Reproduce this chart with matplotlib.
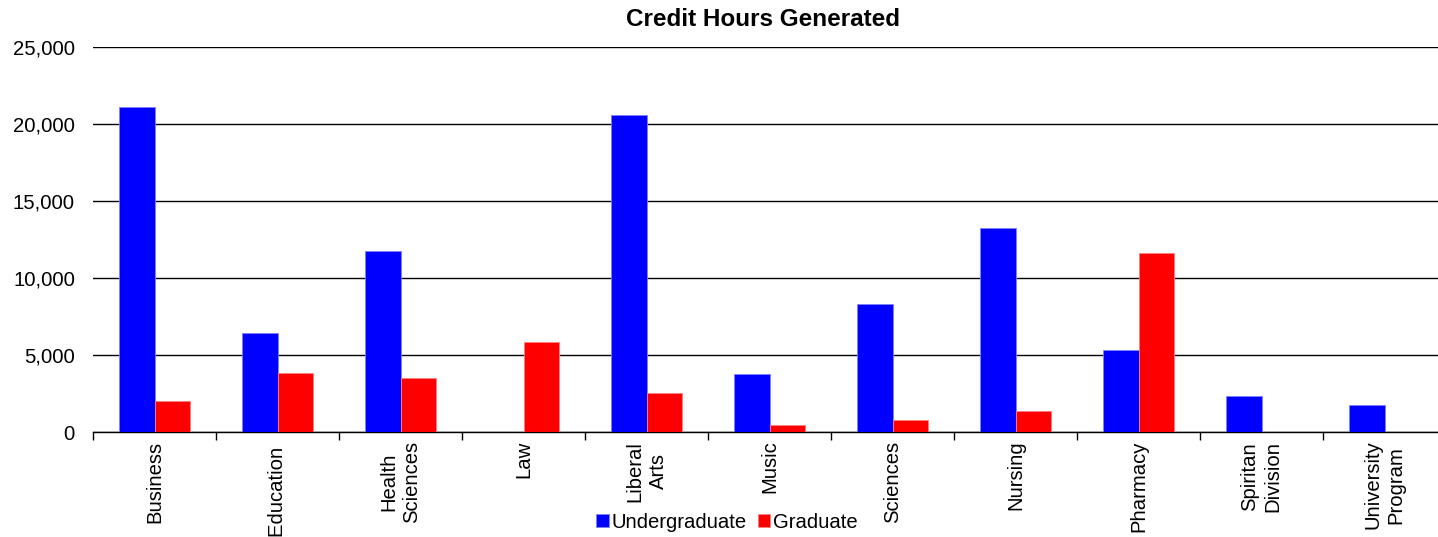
import matplotlib.pyplot as plt
import numpy as np
from matplotlib.ticker import FuncFormatter, FixedLocator

plt.rcParams['font.family'] = ['Liberation Sans', 'DejaVu Sans']

# Werte
categories = ["Business", "Education ", "Health\nSciences", "Law", "Liberal\nArts",
              "Music", "Sciences", "Nursing", "Pharmacy", "Spiritan\nDivision",
              "University\nProgram"]
undergraduate = [21080, 6450, 11770, 0, 20600, 3790, 8330, 13260, 5320, 2340, 1750]
graduate = [2050, 3850, 3520, 5860, 2530, 490, 800, 1360, 11620, 0, 0]

W, H = 1438, 537
fs = 14.6
fig = plt.figure(figsize=(W / 100, H / 100), dpi=100)
ax = fig.add_axes([93 / W, (H - 432.3) / H, (1446 - 93) / W, (432.3 - 47) / H])

x = np.arange(len(categories))
bw = 0.285
ax.bar(x - bw / 2, undergraduate, bw, color='#0000FF', edgecolor='#8080ff', linewidth=0.6,
       label='Undergraduate', zorder=3)
ax.bar(x + bw / 2, graduate, bw, color='#FF0000', edgecolor='#ff8080', linewidth=0.6,
       label='Graduate', zorder=3)

ax.set_xlim(-0.5, len(categories) - 0.5)
ax.set_ylim(0, 25000)
ax.set_yticks(np.arange(0, 25001, 5000))
ax.yaxis.set_major_formatter(FuncFormatter(lambda v, p: f"{int(v):,}"))
ax.yaxis.grid(True, color='black', linewidth=1, zorder=0)
ax.tick_params(axis='y', length=0, pad=13, labelsize=fs)

ax.set_xticks(x)
ax.set_xticklabels(categories, rotation=90, va='top', ha='center', multialignment='center',
                   fontsize=fs, linespacing=1.27)
ax.tick_params(axis='x', which='major', length=0, pad=6)
ax.xaxis.set_minor_locator(FixedLocator(np.arange(-0.5, len(categories), 1.0)))
ax.tick_params(axis='x', which='minor', length=5.5, width=1, color='black')

for s in ['top', 'right', 'left']:
    ax.spines[s].set_visible(False)
ax.spines['bottom'].set_color('black')
ax.spines['bottom'].set_linewidth(1)

fig.text(763 / W, 1 - 20 / H, "Credit Hours Generated", ha='center', va='center',
         fontsize=17.5, fontweight='bold')

fig.legend(loc='center', bbox_to_anchor=(727 / W, 1 - 522 / H), ncol=2, frameon=False,
           fontsize=fs, handlelength=0.6, handleheight=0.6, handletextpad=0.15,
           columnspacing=0.55, borderpad=0)

fig.savefig("out.png", dpi=100)
